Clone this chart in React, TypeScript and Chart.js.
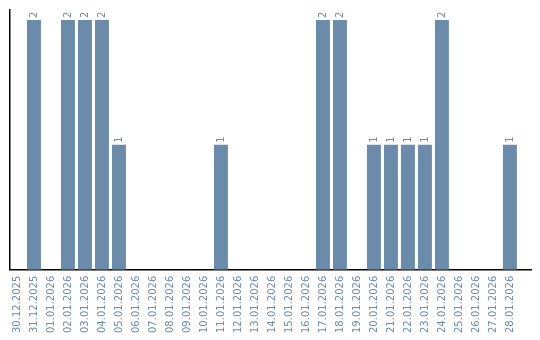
import React, { useEffect, useRef } from "react";
import { Chart, registerables } from "chart.js";

Chart.register(...registerables);

const dates = [
  "30.12.2025", "31.12.2025", "01.01.2026", "02.01.2026", "03.01.2026", "04.01.2026",
  "05.01.2026", "06.01.2026", "07.01.2026", "08.01.2026", "09.01.2026", "10.01.2026",
  "11.01.2026", "12.01.2026", "13.01.2026", "14.01.2026", "15.01.2026", "16.01.2026",
  "17.01.2026", "18.01.2026", "19.01.2026", "20.01.2026", "21.01.2026", "22.01.2026",
  "23.01.2026", "24.01.2026", "25.01.2026", "26.01.2026", "27.01.2026", "28.01.2026",
];
const counts = [0, 2, 0, 2, 2, 2, 1, 0, 0, 0, 0, 0, 1, 0, 0, 0, 0, 0, 2, 2, 0, 1, 1, 1, 1, 2, 0, 0, 0, 1];

const BAR = "#6a8caa";
const TEXT = "#6a8cb0";
const FONT = "DejaVu Sans";

const valueLabels = {
  id: "valueLabels",
  afterDatasetsDraw(chart: any) {
    const ctx = chart.ctx;
    const meta = chart.getDatasetMeta(0);
    ctx.save();
    ctx.fillStyle = TEXT;
    ctx.font = `10px "${FONT}"`;
    ctx.textAlign = "left";
    ctx.textBaseline = "middle";
    meta.data.forEach((el: any, i: number) => {
      const v = counts[i];
      if (!v) return;
      ctx.save();
      ctx.translate(el.x, el.y - 2);
      ctx.rotate(-Math.PI / 2);
      ctx.fillText(String(v), 0, 0);
      ctx.restore();
    });
    ctx.restore();
  },
};

export default function App() {
  const ref = useRef<HTMLCanvasElement>(null);
  useEffect(() => {
    const chart = new Chart(ref.current!, {
      type: "bar",
      data: {
        datasets: [
          {
            data: counts.map((v, i) => ({ x: i, y: v })),
            backgroundColor: BAR,
            borderWidth: 0,
            barPercentage: 0.82,
            categoryPercentage: 1,
          },
        ],
      },
      options: {
        animation: false,
        responsive: false,
        layout: { padding: { left: 10, right: 9, top: 10, bottom: 1 } },
        plugins: { legend: { display: false }, tooltip: { enabled: false } },
        scales: {
          x: {
            type: "linear",
            offset: false,
            min: -0.41,
            max: 30.24,
            grid: { display: false, drawTicks: false, offset: false },
            border: { display: true, color: "#000", width: 1.5 },
            afterBuildTicks: (scale: any) => {
              scale.ticks = dates.map((_, i) => ({ value: i }));
            },
            afterFit: (scale: any) => {
              scale.paddingLeft = 0;
              scale.paddingRight = 0;
            },
            ticks: {
              autoSkip: false,
              minRotation: 90,
              maxRotation: 90,
              color: TEXT,
              font: { family: FONT, size: 10 },
              padding: 6,
              callback: (v: any) => dates[v],
            },
          },
          y: {
            min: 0,
            max: 2.08,
            grid: { display: false, drawTicks: false },
            border: { display: true, color: "#000", width: 1.5 },
            ticks: { display: false },
            afterFit: (scale: any) => {
              scale.paddingTop = 0;
              scale.paddingBottom = 0;
            },
          },
        },
      },
      plugins: [valueLabels],
    });
    return () => chart.destroy();
  }, []);
  return (
    <div style={{ position: "fixed", left: 0, top: 0, width: 540, height: 340 }}>
      <canvas ref={ref} width={540} height={340} />
    </div>
  );
}
